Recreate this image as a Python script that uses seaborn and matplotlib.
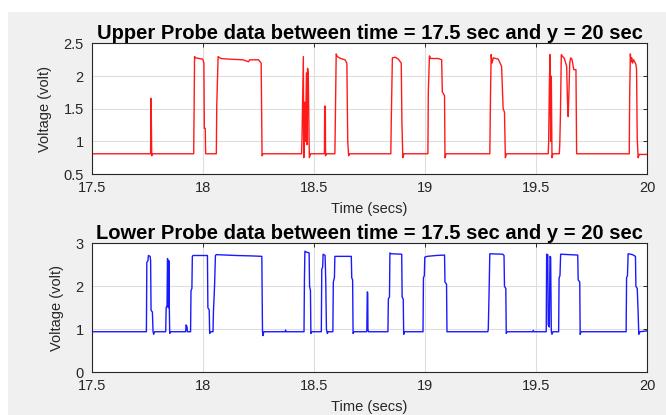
import matplotlib
matplotlib.use("Agg")
import matplotlib.pyplot as plt
import seaborn as sns
import pandas as pd
from matplotlib.patches import Rectangle

# ---------------- data ----------------
upper_t = [17.5, 17.764, 17.765, 17.766, 17.767, 17.769, 17.772,
           17.958, 17.960, 17.962, 17.966, 17.999, 18.004, 18.006, 18.010, 18.012,
           18.060, 18.062, 18.068, 18.080, 18.120, 18.180, 18.205, 18.210, 18.250, 18.262, 18.266, 18.270,
           18.444, 18.446, 18.452, 18.454, 18.458, 18.461, 18.466, 18.469, 18.471, 18.474, 18.479, 18.485,
           18.547, 18.548, 18.551, 18.552, 18.555,
           18.594, 18.596, 18.600, 18.605, 18.620, 18.640, 18.648, 18.652, 18.656, 18.660,
           18.846, 18.848, 18.853, 18.865, 18.880, 18.893, 18.896, 18.900, 18.905,
           19.013, 19.015, 19.020, 19.025, 19.060, 19.075, 19.078, 19.088, 19.090, 19.095,
           19.292, 19.295, 19.298, 19.302, 19.308, 19.330, 19.345, 19.352, 19.358, 19.362, 19.367,
           19.555, 19.557, 19.560, 19.563, 19.566, 19.569, 19.572, 19.576,
           19.605, 19.607, 19.610, 19.614, 19.620, 19.628, 19.638, 19.642, 19.645, 19.648, 19.652,
           19.656, 19.662, 19.670, 19.680, 19.683,
           19.920, 19.922, 19.925, 19.928, 19.931, 19.935, 19.940, 19.950, 19.953, 19.956, 19.960, 19.965, 20.0]
upper_v = [0.81, 0.81, 1.66, 0.81, 1.44, 0.78, 0.81,
           0.81, 1.50, 2.30, 2.28, 2.26, 2.20, 1.20, 1.20, 0.81,
           0.81, 1.55, 2.30, 2.27, 2.26, 2.25, 2.22, 2.25, 2.25, 2.20, 0.78, 0.81,
           0.81, 1.05, 2.30, 0.75, 1.60, 1.00, 2.05, 0.95, 2.12, 2.05, 0.75, 0.81,
           0.81, 1.54, 1.54, 0.78, 0.81,
           0.81, 1.30, 2.34, 2.30, 2.27, 2.25, 2.20, 1.00, 0.78, 0.81,
           0.81, 1.30, 2.28, 2.29, 2.26, 2.20, 1.30, 0.75, 0.81,
           0.81, 1.76, 2.31, 2.27, 2.27, 2.25, 1.76, 1.70, 0.75, 0.81,
           0.81, 1.70, 2.33, 2.20, 2.28, 2.26, 2.15, 1.50, 1.45, 0.75, 0.81,
           0.81, 1.00, 1.80, 2.33, 1.00, 2.00, 0.75, 0.81,
           0.81, 0.95, 1.40, 2.33, 2.30, 2.27, 2.15, 1.60, 1.38, 1.70, 2.20,
           2.28, 2.26, 2.10, 2.10, 0.81,
           0.81, 1.70, 2.34, 2.22, 2.28, 2.20, 2.25, 2.18, 2.10, 1.05, 0.75, 0.80, 0.80]

lower_t = [17.5, 17.745, 17.747, 17.752, 17.754, 17.762, 17.764, 17.766, 17.772, 17.775, 17.778, 17.782,
           17.832, 17.834, 17.838, 17.840, 17.842, 17.844, 17.846, 17.848, 17.850, 17.853,
           17.922, 17.924, 17.928, 17.930,
           17.944, 17.946, 17.950, 17.952, 17.955, 18.020, 18.022, 18.028, 18.030, 18.034,
           18.045, 18.047, 18.052, 18.056, 18.060, 18.150, 18.220, 18.265, 18.268, 18.270, 18.274,
           18.370, 18.372, 18.374,
           18.455, 18.457, 18.459, 18.465, 18.478, 18.480, 18.484, 18.486, 18.490,
           18.533, 18.535, 18.539, 18.541, 18.550, 18.553, 18.556, 18.560, 18.564,
           18.585, 18.587, 18.592, 18.594, 18.668, 18.670, 18.674, 18.676, 18.680,
           18.737, 18.738, 18.740, 18.742, 18.743, 18.745,
           18.833, 18.835, 18.840, 18.842, 18.848, 18.895, 18.897, 18.902, 18.904, 18.908,
           18.991, 18.993, 18.997, 18.999, 19.010, 19.050, 19.088, 19.090, 19.097, 19.099,
           19.283, 19.285, 19.288, 19.292, 19.350, 19.356, 19.358, 19.364, 19.366, 19.370,
           19.486, 19.488, 19.490,
           19.546, 19.548, 19.553, 19.555, 19.560, 19.563, 19.566, 19.569, 19.572, 19.576,
           19.602, 19.604, 19.608, 19.611, 19.650, 19.688, 19.690, 19.697, 19.699, 19.703,
           19.906, 19.908, 19.912, 19.915, 19.935, 19.948, 19.950, 19.956, 19.960, 19.963, 19.968, 20.0]
lower_v = [0.94, 0.94, 2.56, 2.60, 2.72, 2.70, 2.60, 1.44, 1.40, 0.94, 0.88, 0.94,
           0.94, 1.50, 1.55, 2.65, 2.60, 1.50, 2.60, 1.60, 0.90, 0.94,
           0.94, 1.10, 1.05, 0.94,
           0.94, 1.90, 1.95, 2.70, 2.72, 2.72, 1.50, 1.45, 0.90, 0.94,
           0.94, 1.40, 2.00, 2.72, 2.74, 2.72, 2.71, 2.70, 0.94, 0.85, 0.94,
           0.94, 0.98, 0.94,
           0.94, 2.20, 2.82, 2.80, 2.78, 2.00, 1.90, 0.90, 0.94,
           0.94, 2.40, 2.45, 2.75, 2.72, 2.10, 1.00, 0.90, 0.94,
           0.94, 2.10, 2.20, 2.70, 2.70, 2.20, 2.15, 0.90, 0.94,
           0.94, 1.00, 1.87, 1.85, 1.00, 0.94,
           0.94, 1.71, 1.75, 2.78, 2.76, 2.75, 1.75, 1.70, 0.88, 0.94,
           0.94, 2.20, 2.25, 2.68, 2.70, 2.72, 2.73, 2.10, 2.05, 0.94,
           0.94, 1.00, 1.70, 2.76, 2.75, 2.72, 2.00, 1.95, 0.90, 0.94,
           0.94, 0.97, 0.94,
           0.94, 2.75, 2.74, 1.10, 1.05, 2.70, 2.68, 0.95, 0.88, 0.94,
           0.94, 2.20, 2.25, 2.75, 2.74, 2.73, 2.15, 2.10, 0.88, 0.94,
           0.94, 2.20, 2.25, 2.76, 2.74, 2.70, 2.00, 1.95, 1.40, 0.88, 0.94, 0.96]

x_ticks = [17.5, 18, 18.5, 19, 19.5, 20]
x_ticklabels = ["17.5", "18", "18.5", "19", "19.5", "20"]
upper_yticks = [0.5, 1, 1.5, 2, 2.5]
upper_yticklabels = ["0.5", "1", "1.5", "2", "2.5"]
lower_yticks = [0, 1, 2, 3]
lower_yticklabels = ["0", "1", "2", "3"]
upper_title = "Upper Probe data between time = 17.5 sec and y = 20 sec"
lower_title = "Lower Probe data between time = 17.5 sec and y = 20 sec"

# ---------------- style ----------------
sns.set_style("white")
plt.rcParams['font.family'] = ['Liberation Sans', 'DejaVu Sans']

W, H = 666, 415
fig = plt.figure(figsize=(W / 100, H / 100), dpi=100, facecolor="white")
fig.patches.append(Rectangle((8 / W, 0), 1, (H - 12) / H, transform=fig.transFigure,
                             facecolor="#f0f0f0", edgecolor="none", zorder=-10))

ax1 = fig.add_axes([92 / W, 1 - 174 / H, (647 - 92) / W, (174 - 43.5) / H])
ax2 = fig.add_axes([92 / W, 1 - 372 / H, (647 - 92) / W, (372 - 243.5) / H])

up_df = pd.DataFrame({"t": upper_t, "v": upper_v})
lo_df = pd.DataFrame({"t": lower_t, "v": lower_v})
sns.lineplot(data=up_df, x="t", y="v", ax=ax1, color="#ff1a1a", lw=1.0, sort=False, estimator=None)
sns.lineplot(data=lo_df, x="t", y="v", ax=ax2, color="#1a1aff", lw=1.0, sort=False, estimator=None)

for ax, yt, ytl, ylim, title in [(ax1, upper_yticks, upper_yticklabels, (0.5, 2.5), upper_title),
                                 (ax2, lower_yticks, lower_yticklabels, (0, 3), lower_title)]:
    ax.set_facecolor("white")
    ax.set_xlim(17.5, 20)
    ax.set_ylim(*ylim)
    ax.set_xticks(x_ticks)
    ax.set_xticklabels(x_ticklabels)
    ax.set_yticks(yt)
    ax.set_yticklabels(ytl)
    ax.grid(True, color="#dedede", lw=0.8)
    ax.tick_params(direction="in", length=3, width=0.7, top=True, right=True,
                   labelsize=10.5, colors="#262626", labelcolor="#262626")
    ax.tick_params(axis="y", pad=6)
    ax.tick_params(axis="x", pad=5)
    for s in ax.spines.values():
        s.set_color("#262626")
        s.set_linewidth(0.8)
    ax.set_xlabel("Time (secs)", fontsize=10.5, color="#262626", labelpad=5)
    ax.set_ylabel("Voltage (volt)", fontsize=10.5, color="#262626", labelpad=8)
    ax.set_title(title, fontsize=14.5, fontweight="bold", color="black", pad=3)

fig.savefig("out.png", dpi=100, facecolor=fig.get_facecolor())
